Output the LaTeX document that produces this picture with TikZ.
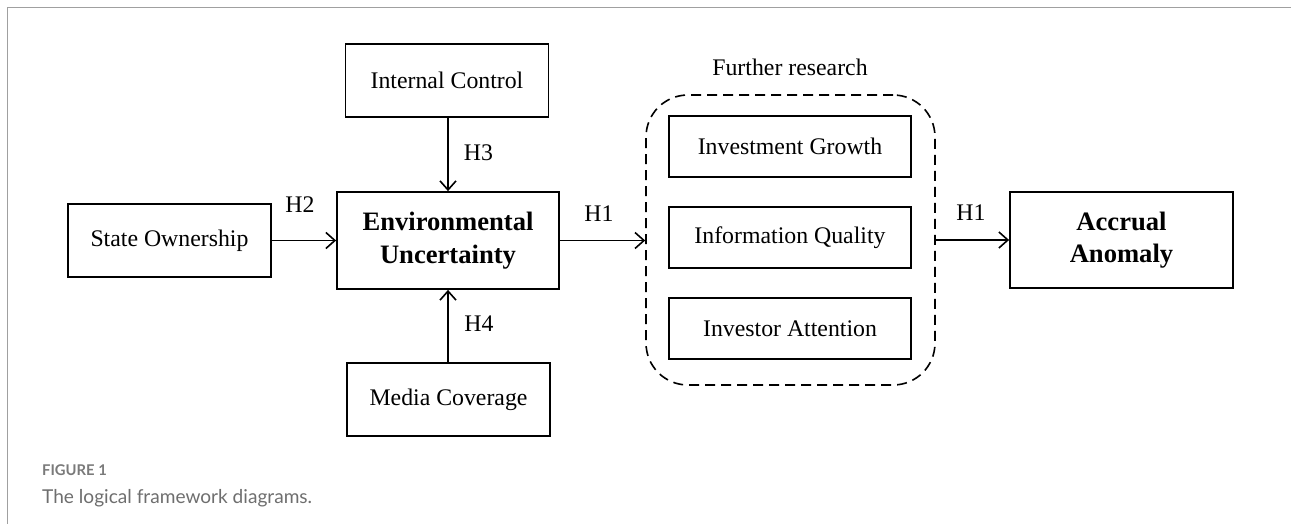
\documentclass[tikz,border=0pt]{standalone}
\usepackage{fontspec}
\setmainfont{Liberation Serif}
\newfontfamily\capfont{Lato}
\usetikzlibrary{arrows.meta}
\definecolor{framegray}{HTML}{A0A0A0}
\definecolor{capgray}{HTML}{6E6E6E}
\definecolor{figgray}{HTML}{7A7A7A}
\tikzset{
  box/.style={draw, line width=1.8pt, inner sep=0pt, align=center,
    font=\fontsize{23.8}{28}\selectfont},
  bbox/.style={box, font=\fontsize{26.6}{32.5}\selectfont\bfseries},
  conn/.style={line width=1.6pt, -{Straight Barb[length=9pt,width=16pt,line width=1.6pt]}},
  hlabel/.style={inner sep=0pt, font=\fontsize{23.8}{28}\selectfont},
  group/.style={draw, line width=1.6pt, dash pattern=on 10pt off 6pt, rounded corners=42pt, inner sep=0pt}
}
\begin{document}
\begin{tikzpicture}[x=1pt,y=-1pt]
\useasboundingbox (0,0) rectangle (1291,524);
\draw[framegray, line width=1.5pt] (7.5,524) -- (7.5,7.5) -- (1291,7.5);

\node[box, minimum width=203pt, minimum height=73pt] (so) at (169.5,240.5) {State Ownership};
\node[bbox, minimum width=222pt, minimum height=97pt] (env) at (448,240.5) {Environmental\\Uncertainty};
\node[box, minimum width=203pt, minimum height=73pt] (ic) at (447,80.5) {Internal Control};
\node[box, minimum width=203pt, minimum height=73pt] (mc) at (448.5,399.5) {Media Coverage};

\node[group, minimum width=289pt, minimum height=290pt] (fr) at (790.5,240) {};
\node[hlabel] (frl) at (790,67) {Further research};
\node[box, minimum width=242pt, minimum height=61pt] (ig) at (790,146.5) {Investment Growth};
\node[box, minimum width=242pt, minimum height=61pt] (iq) at (790,237.5) {Information Quality};
\node[box, minimum width=242pt, minimum height=61pt] (ia) at (790,328.5) {Investor Attention};

\node[bbox, minimum width=223pt, minimum height=96pt] (aa) at (1121.5,240) {Accrual\\Anomaly};

\draw[conn] (so.east) -- (so.east -| env.west);
\draw[conn] (ic.south -| env.north) -- (env.north);
\draw[conn] (mc.north -| env.south) -- (env.south);
\draw[conn] (env.east) -- (env.east -| fr.west);
\draw[conn] (fr.east) -- (fr.east -| aa.west);

\node[hlabel] (h2) at (300,205) {H2};
\node[hlabel] (h3) at (478.5,153) {H3};
\node[hlabel] (h4) at (479,324) {H4};
\node[hlabel] (h1a) at (599,214) {H1};
\node[hlabel] (h1b) at (971,213) {H1};

\node[anchor=base west, inner sep=0pt, text=figgray, font=\capfont\fontsize{14.8}{18}\selectfont\bfseries] (fig) at (42,475) {FIGURE 1};
\node[anchor=base west, inner sep=0pt, text=capgray, font=\capfont\fontsize{19.1}{22}\selectfont] (cap) at (42,503) {The logical framework diagrams.};
\end{tikzpicture}
\end{document}
